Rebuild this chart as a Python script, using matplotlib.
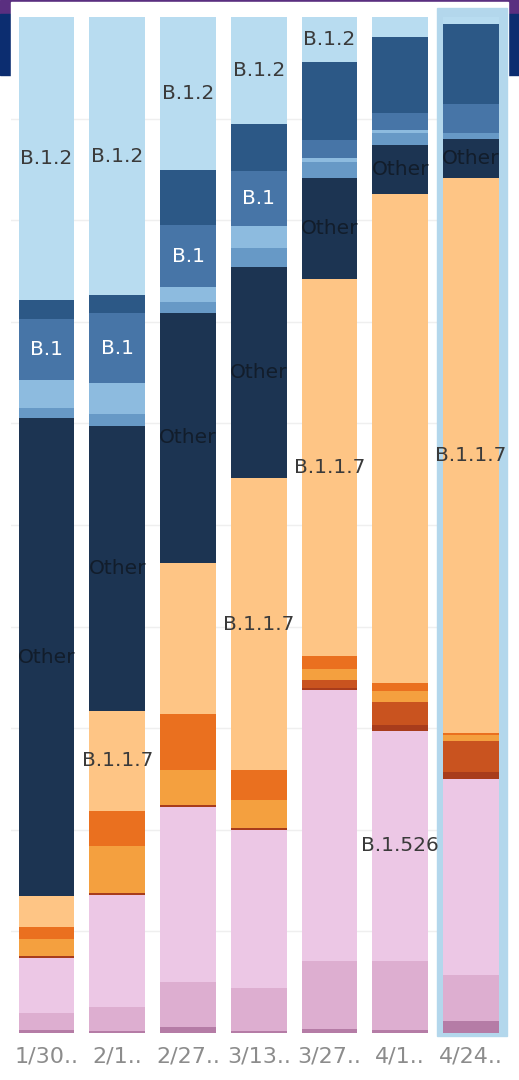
import numpy as np
import matplotlib.pyplot as plt
from matplotlib.patches import Rectangle

dates = ["1/30..", "2/1..", "2/27..", "3/13..", "3/27..", "4/1..", "4/24.."]

# share of sequences (%) per lineage group, stacked bottom to top
mauve      = [0.3, 0.2, 0.6, 0.2, 0.4, 0.3, 1.2]
pink_mid   = [1.7, 2.4, 4.4, 4.2, 6.7, 6.8, 4.5]
b1526      = [5.4, 11.0, 17.3, 15.6, 26.7, 22.7, 19.3]
red_dark   = [0.2, 0.2, 0.15, 0.2, 0.2, 0.5, 0.7]
brown      = [0.0, 0.0, 0.0, 0.0, 0.8, 2.3, 3.1]
orange     = [1.7, 4.6, 3.4, 2.7, 1.1, 1.1, 0.6]
orange_hot = [1.2, 3.5, 5.6, 3.0, 1.2, 0.8, 0.2]
b117       = [3.0, 9.8, 14.8, 28.7, 37.2, 48.2, 54.6]
other      = [47.2, 28.1, 24.7, 20.8, 9.9, 4.8, 3.9]
blue_mid   = [1.0, 1.2, 1.0, 1.9, 1.6, 1.2, 0.6]
blue_light = [2.8, 3.0, 1.5, 2.1, 0.4, 0.3, 0.0]
b1         = [6.0, 6.9, 6.1, 5.4, 1.8, 1.6, 2.8]
blue_dark  = [1.9, 1.8, 5.4, 4.7, 7.7, 7.5, 7.9]
b12        = [27.9, 27.4, 15.1, 10.5, 4.4, 2.0, 0.7]

series = [
    ("mauve", mauve, "#b57ca6"),
    ("pink_mid", pink_mid, "#ddaed0"),
    ("B.1.526", b1526, "#ecc7e5"),
    ("red_dark", red_dark, "#a83c1c"),
    ("brown", brown, "#c9531f"),
    ("orange", orange, "#f4a03f"),
    ("orange_hot", orange_hot, "#ea701f"),
    ("B.1.1.7", b117, "#fec585"),
    ("Other", other, "#1c3452"),
    ("blue_mid", blue_mid, "#6799c6"),
    ("blue_light", blue_light, "#8dbbdf"),
    ("B.1", b1, "#4775a7"),
    ("blue_dark", blue_dark, "#2c5886"),
    ("B.1.2", b12, "#b8dcf0"),
]

# which segment labels are shown on which bar
shown_labels = [
    (0, "B.1.2"), (0, "B.1"), (0, "Other"),
    (1, "B.1.2"), (1, "B.1"), (1, "Other"), (1, "B.1.1.7"),
    (2, "B.1.2"), (2, "B.1"), (2, "Other"),
    (3, "B.1.2"), (3, "B.1"), (3, "Other"), (3, "B.1.1.7"),
    (4, "B.1.2"), (4, "Other"), (4, "B.1.1.7"),
    (5, "Other"), (5, "B.1.526"),
    (6, "Other"), (6, "B.1.1.7"),
]
label_colors = {"B.1": "white", "Other": "#121d2b"}

W, H = 519, 1080
fig = plt.figure(figsize=(W / 100, H / 100), dpi=100)

# page background: header bands and white panel
bg = fig.add_axes([0, 0, 1, 1])
bg.set_xlim(0, W)
bg.set_ylim(H, 0)
bg.axis("off")
bg.add_patch(Rectangle((0, 0), W, 14, color="#5a2f80"))
bg.add_patch(Rectangle((0, 14), W, 61, color="#0c2d70"))
bg.add_patch(Rectangle((11, 2), 497, H, color="white"))

ax = fig.add_axes([11 / W, 47 / H, 497 / W, 1016 / H])
ax.patch.set_alpha(0)
x = np.arange(len(dates))
vals = np.array([s[1] for s in series], dtype=float)
vals = vals / vals.sum(axis=0) * 100

for g in range(10, 100, 10):
    ax.axhline(g, color="#efefef", lw=1, zorder=0)

ax.add_patch(Rectangle((5.52, -0.3), 0.99, 101.2, color="#b3d7ec",
                       zorder=1, clip_on=False))

bottom = np.zeros(len(dates))
centers = {}
for (name, _, color), v in zip(series, vals):
    ax.bar(x, v, 0.79, bottom=bottom, color=color, zorder=2)
    centers[name] = bottom + v / 2
    bottom += v

for i, name in shown_labels:
    ax.text(x[i], centers[name][i], name, ha="center", va="center",
            fontsize=14.5, color=label_colors.get(name, "#3a3a3a"), zorder=3)

ax.set_xlim(-0.502, 6.523)
ax.set_ylim(0, 100)
ax.set_xticks(x, dates)
ax.set_yticks([])
ax.tick_params(axis="x", length=0, pad=10, labelsize=16, labelcolor="#8c8c8c")
for sp in ax.spines.values():
    sp.set_visible(False)

fig.savefig("out.png", dpi=100)
